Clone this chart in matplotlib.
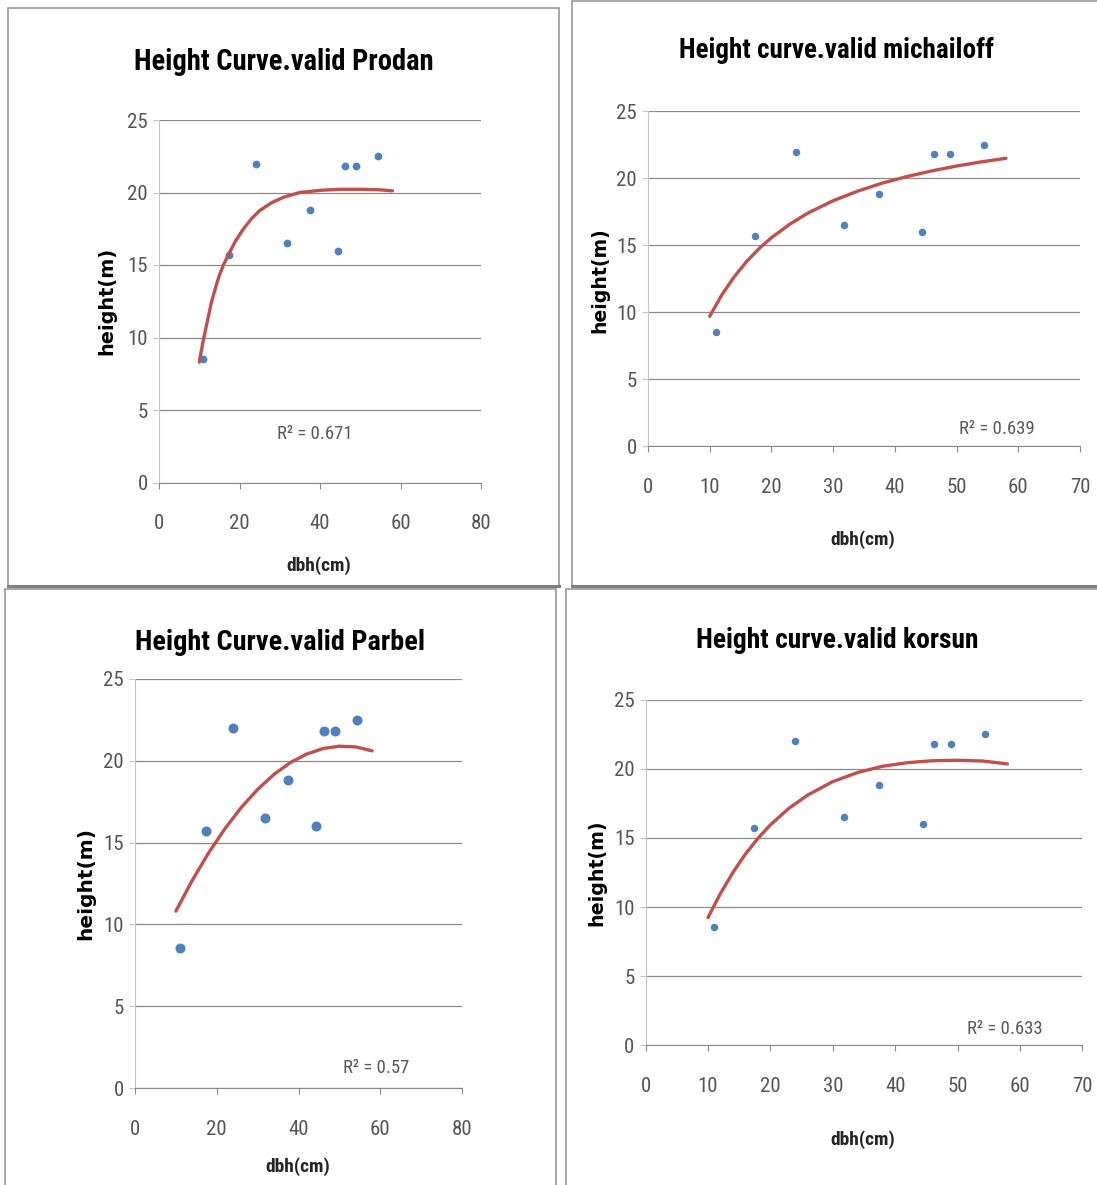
import matplotlib
matplotlib.use('Agg')
import matplotlib.pyplot as plt
from matplotlib import font_manager
from matplotlib.patches import Rectangle
from matplotlib.lines import Line2D

# ── Data ────────────────────────────────────────────────────────────
dbh    = [11.0, 17.4, 24.0, 31.8, 37.4, 44.4, 46.3, 48.9, 54.4]
height = [8.55, 15.7, 22.0, 16.5, 18.8, 16.0, 21.8, 21.8, 22.5]

prodan_x = [10, 11, 12, 13, 14, 15, 16, 17.5, 19, 21, 23, 25, 28, 31, 35, 40, 45, 50, 54, 58]
prodan_y = [8.3, 9.8, 11.1, 12.4, 13.4, 14.3, 15.0, 15.85, 16.65, 17.5, 18.2, 18.75,
            19.3, 19.68, 20.0, 20.15, 20.22, 20.22, 20.2, 20.12]

michailoff_x = [10, 12, 14, 16, 18, 20, 23, 26, 30, 34, 38, 42, 46, 50, 54, 58]
michailoff_y = [9.7, 11.33, 12.67, 13.8, 14.76, 15.57, 16.59, 17.43, 18.33, 19.05,
                19.65, 20.14, 20.56, 20.92, 21.23, 21.5]

parbel_x = [10, 14, 18, 22, 26, 30, 34, 38, 42, 46, 50, 54, 58]
parbel_y = [10.81, 12.69, 14.37, 15.85, 17.15, 18.25, 19.17, 19.89, 20.41, 20.75,
            20.89, 20.85, 20.61]

korsun_x = [10, 12, 14, 16, 18, 20, 23, 26, 30, 34, 38, 42, 46, 50, 54, 58]
korsun_y = [9.24, 10.98, 12.5, 13.83, 14.96, 15.94, 17.15, 18.1, 19.07, 19.73,
            20.18, 20.44, 20.58, 20.61, 20.56, 20.35]

titles  = ['Height Curve.valid Prodan', 'Height curve.valid michailoff',
           'Height Curve.valid Parbel', 'Height curve.valid korsun']
r2_text = ['R² = 0.671', 'R² = 0.639', 'R² = 0.57', 'R² = 0.633']
x_max   = [80, 70, 80, 70]
x_step  = [20, 10, 20, 10]

# ── Fonts: a condensed face stands in for the squeezed Calibri ──────
avail = {f.name for f in font_manager.fontManager.ttflist}
prefs = ['Roboto Condensed', 'Open Sans Condensed', 'Fira Sans Condensed', 'PT Sans Narrow',
         'Barlow Condensed', 'Liberation Sans Narrow', 'Carlito']
COND = next((f for f in prefs if f in avail), 'DejaVu Sans')
plt.rcParams['font.family'] = [COND, 'DejaVu Sans']

# ── Figure ──────────────────────────────────────────────────────────
W, H = 1097, 1185
fig = plt.figure(figsize=(W / 100, H / 100), dpi=100)
fig.patch.set_facecolor('white')


def fx(px):
    return px / W


def fy(py):
    return 1 - py / H


# layout in pixels: axes (left, right, top, bottom), text centres, border box, target text widths
layout = [
    dict(ax=(159, 481, 120, 482.5), title=(284, 62), ylab=(107, 301), xlab=(319, 566),
         r2=(315, 434), box=(8, 559, 8, 586), ms=5.6, tw=300, yw=107),
    dict(ax=(648, 1080, 111.4, 446.2), title=(836, 51), ylab=(600, 280), xlab=(863, 540),
         r2=(997, 429), box=(572, 1102, 1, 586), ms=5.4, tw=315, yw=105),
    dict(ax=(135, 462, 679, 1088), title=(280, 643), ylab=(86, 884), xlab=(298, 1167),
         r2=(376, 1068), box=(5, 556, 589, 1192), ms=7.2, tw=290, yw=112),
    dict(ax=(645.6, 1082.3, 699.6, 1045.3), title=(837, 641), ylab=(597, 873), xlab=(863, 1140),
         r2=(1005, 1029), box=(566, 1102, 589, 1192), ms=5.4, tw=284, yw=106),
]
curves = [(prodan_x, prodan_y), (michailoff_x, michailoff_y),
          (parbel_x, parbel_y), (korsun_x, korsun_y)]

renderer = fig.canvas.get_renderer()


def fit(txt, target, vertical=False):
    bb = txt.get_window_extent(renderer)
    cur = bb.height if vertical else bb.width
    txt.set_fontsize(txt.get_fontsize() * target / cur)


GRID = '#8a8a8a'
for i, lay in enumerate(layout):
    # chart border
    l, r, t, b = lay['box']
    fig.add_artist(Rectangle((fx(l), fy(b)), fx(r - l), (b - t) / H, transform=fig.transFigure,
                             fill=False, ec='#9a9a9a', lw=1.2))
    fig.add_artist(Line2D([fx(l), fx(r)], [fy(b), fy(b)], transform=fig.transFigure,
                          color='#808080', lw=2.2))

    l, r, t, b = lay['ax']
    ax = fig.add_axes([fx(l), fy(b), fx(r - l), (b - t) / H])
    ax.set_xlim(0, x_max[i])
    ax.set_ylim(0, 25)
    ax.set_xticks(range(0, x_max[i] + 1, x_step[i]))
    ax.set_yticks(range(0, 26, 5))
    ax.yaxis.grid(True, color=GRID, lw=0.9)
    ax.set_axisbelow(True)
    ax.spines[['top', 'right']].set_visible(False)
    ax.spines['left'].set_color('#c4c4c4')
    ax.spines['bottom'].set_color(GRID)
    ax.tick_params(axis='x', direction='out', length=4, color=GRID, pad=19,
                   labelsize=15, labelcolor='#555555')
    ax.tick_params(axis='y', direction='out', length=4, color='#c4c4c4', pad=4,
                   labelsize=15, labelcolor='#555555')

    ax.plot(dbh, height, 'o', color='#4F81BD', ms=lay['ms'], mec='none', clip_on=False, zorder=3)
    cx, cy = curves[i]
    ax.plot(cx, cy, color='#C0504D', lw=2.4, solid_capstyle='round', zorder=4)

    x, y = lay['title']
    t1 = fig.text(fx(x), fy(y), titles[i], ha='center', va='center', fontsize=24,
                  fontweight='bold', color='black')
    fit(t1, lay['tw'])
    x, y = lay['ylab']
    t2 = fig.text(fx(x), fy(y), 'height(m)', ha='center', va='center', rotation=90,
                  family='DejaVu Sans', fontweight='bold', fontsize=12, color='black')
    fit(t2, lay['yw'], vertical=True)
    x, y = lay['xlab']
    fig.text(fx(x), fy(y), 'dbh(cm)', ha='center', va='center', fontsize=14,
             fontweight='bold', color='#262626')
    x, y = lay['r2']
    fig.text(fx(x), fy(y), r2_text[i], ha='center', va='center', fontsize=13.5,
             color='#595959')

fig.savefig('out.png', dpi=100, facecolor='white')
